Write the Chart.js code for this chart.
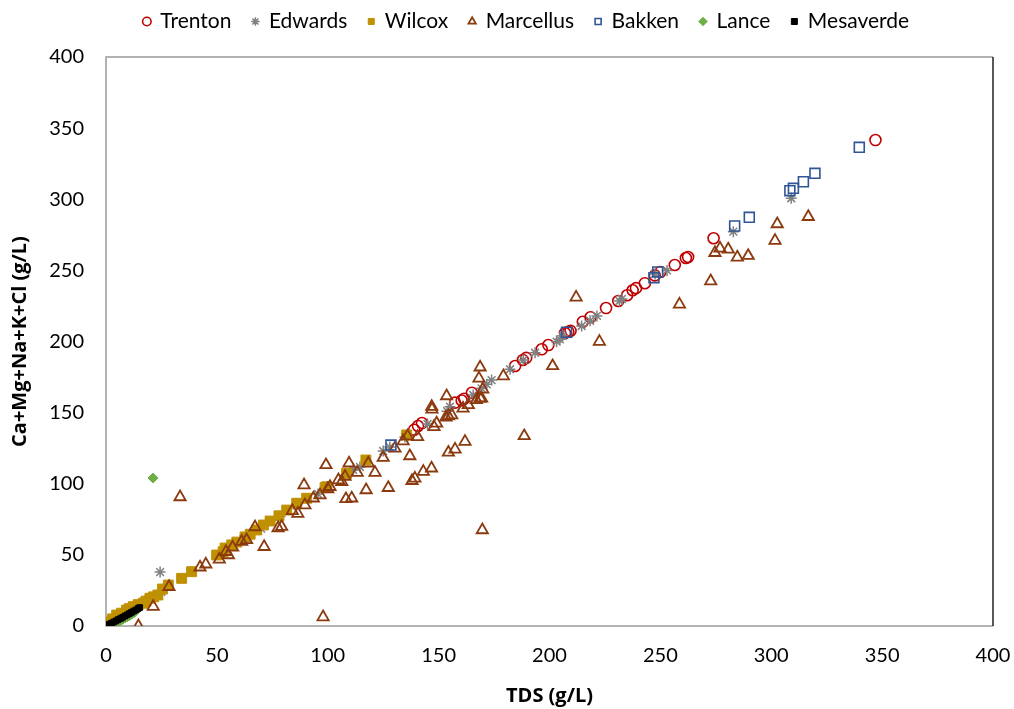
<!DOCTYPE html>
<html>
<head>
<meta charset="utf-8">
<script src="https://cdn.jsdelivr.net/npm/chart.js@4.4.1/dist/chart.umd.min.js"></script>
<style>
  html, body { margin: 0; padding: 0; background: #fff; }
  #wrap { width: 1014px; height: 709px; }
</style>
</head>
<body>
<div id="wrap"><canvas id="chart" width="1014" height="709"></canvas></div>
<script>
// TDS (g/L) vs Ca+Mg+Na+K+Cl (g/L)
const trenton = [[347,341.6],[274,272.6],[262.5,259.4],[261.5,258.7],[256.5,253.8],[250,248.9],[247.5,246.5],
  [243,241],[239,237.5],[237.5,236],[235,232.5],[231,228.5],[225.5,223.5],[218.5,217],[215,213.9],[209.5,207.5],
  [208.5,206.9],[207,206],[199.5,197.5],[196.5,194.5],[189.5,188.5],[188,187],[184.5,182.8],[165,164],
  [161.5,159.8],[160.4,158.5],[157.4,157],[142.5,142.7],[140.7,140.6],[139,138]];

const edwards = [[24.4,37.9],[309,300.7],[282.9,277.2],[253,250],[247.6,247.5],[232.7,229.9],[231.5,228.5],
  [221.4,218],[218.3,214.6],[214.5,210.9],[206,204],[204.7,201.5],[203.2,199.9],[193.5,192.1],[188.2,187],
  [182.2,180.5],[173.9,172.9],[171.7,169.9],[169.4,167.1],[165.6,162.4],[155.1,154.2],[153.8,151],[145,142],
  [134.8,132.9],[128,125.8],[125,123],[114.5,111.8],[111.4,109.7],[107.8,106],[99.7,97.7],[95.6,92.8],
  [86,84.8],[78.5,77],[70,68.5],[62,61],[55,53.5],[25,24],[20,19.5],[14,13.5],[9,8.8],[5,5]];

const wilcox = [[135.6,134.3],[117.2,116.7],[108.5,107.3],[99.5,97.9],[98.8,97.3],[90.5,89.8],[86,86.3],
  [81.5,81.5],[78,77.5],[74,73.8],[71,71],[68,67.5],[65,64.5],[62.7,62.6],[59,59],[56.7,57],[53.7,54.8],
  [52.8,52.2],[49.9,49.9],[38.6,38.2],[34.1,33.5],[28.1,28.8],[25.5,26],[23.4,21.8],[21.5,20.5],[19.8,19.5],
  [18,17.5],[16.8,16],[14.5,15],[12.3,13.6],[10.5,12.2],[9.3,11.2],[7,9],[4.8,7.7],[3,5],[1.5,3],[0.3,1.9]];

const marcellus = [[33.4,90.7],[14.6,0],[97.9,6.3],[169.7,67.5],[188.6,133.6],[99.2,113.2],[212,231],
  [222.5,199.9],[201.4,182.8],[258.6,226.1],[272.7,242.5],[274.6,262.4],[276.9,265.5],[280.6,264.8],
  [284.7,259.2],[289.6,260.3],[301.7,270.9],[302.7,282.6],[316.7,287.7],[168.7,181.9],[168.2,174.1],
  [179.2,175.7],[169.9,166.4],[168.7,160.1],[167,158.9],[169.4,160],[163.4,155.4],[161,153],[153.6,161.7],
  [153.3,146.7],[154.4,147.6],[155.9,148.3],[146.9,154.2],[147,152.3],[149.1,142.5],[147.9,140],[140.5,133],
  [137,119.5],[125,118.3],[130.3,124.9],[121.3,107.8],[118.3,114.4],[113.3,107.8],[109.6,114.4],[117.3,95.6],
  [127.3,97.2],[108.2,89.3],[110.8,89.8],[89.3,99.1],[96.5,92],[93.5,89.8],[89.7,85],[79.2,69.8],[146.8,110.9],
  [143.1,108.5],[139.3,103.8],[138,102.1],[161.9,129.6],[157.4,124.2],[154.4,122],[106.3,101.4],[107.8,105],
  [104.8,102.6],[101,97.9],[100,96.3],[28.4,27.6],[21.3,13.6],[42.4,41.3],[45,43.4],[51.1,46.9],[55.2,49.9],
  [54.1,52.2],[57.1,55.3],[61.2,59.3],[71.3,55.7],[63.4,60.5],[67.2,69.6],[77.6,68.9],[84,81],[86.5,79],
  [134,130],[136,133.5]];

const bakken = [[339.7,336.5],[319.7,318.2],[314.5,312.3],[310,307.7],[308.4,306],[290.1,287.3],[283.5,281.2],
  [248.8,248.9],[247.1,244.9],[207.7,206.5],[128.5,127.2]];

const lance = [[21.2,104],[2.5,0.6],[3.5,1.4],[4.5,2.2],[5.5,3],[6.5,3.9],[7.5,4.7],[8.5,5.6],[9.5,6.4],
  [10.5,7.3],[11.5,8.2],[12.5,9.3],[13,10]];

const mesaverde = [[0.5,0.6],[1.5,1.3],[2.5,2],[3.5,2.8],[4.5,3.6],[5.5,4.5],[6.5,5.2],[7.5,6.1],[8.5,7],
  [9.5,7.8],[10.5,8.7],[11.5,9.6],[12.5,10.5],[13.5,11.3],[14.5,12.3],[15.2,13]];

const tickValues = [0, 50, 100, 150, 200, 250, 300, 350, 400];

const FONT = 'Lato, "Open Sans", sans-serif';
const TITLE_FONT = '"Open Sans", Lato, sans-serif';

function pts(arr) {
  return arr.map(p => ({ x: p[0], y: p[1] }));
}

function series(label, data, style, color, fill, radius, order, bw) {
  return {
    label: label,
    data: pts(data),
    pointStyle: style,
    pointRadius: radius,
    pointHoverRadius: radius,
    pointBorderColor: color,
    pointBackgroundColor: fill ? color : 'rgba(0,0,0,0)',
    borderColor: color,
    backgroundColor: fill ? color : 'rgba(0,0,0,0)',
    pointBorderWidth: bw,
    showLine: false,
    order: order
  };
}

// legend height fixed and shifted a bit right, like the original
const legendTweak = {
  id: 'legendTweak',
  afterInit(chart) {
    if (!chart.legend) return;
    const fit = chart.legend.fit;
    chart.legend.fit = function () { fit.call(this); this.height = 67; };
  },
  afterLayout(chart) {
    if (!chart.legend) return;
    chart.legend.left += 30;
    chart.legend.right += 30;
  }
};

// frame around the plot area
const frame = {
  id: 'frame',
  beforeDatasetsDraw(chart) {
    const { ctx, chartArea: a } = chart;
    ctx.save();
    ctx.lineWidth = 1.5;
    ctx.strokeStyle = '#9a9a9a';
    ctx.beginPath();
    ctx.moveTo(a.right, a.top);
    ctx.lineTo(a.left, a.top);
    ctx.lineTo(a.left, a.bottom);
    ctx.lineTo(a.right, a.bottom);
    ctx.stroke();
    ctx.strokeStyle = '#222';
    ctx.beginPath();
    ctx.moveTo(a.right, a.top);
    ctx.lineTo(a.right, a.bottom);
    ctx.stroke();
    ctx.restore();
  }
};

const ctx = document.getElementById('chart').getContext('2d');
const chart = new Chart(ctx, {
  type: 'scatter',
  data: {
    datasets: [
      series('Trenton', trenton, 'circle', '#C00000', false, 5.5, 7, 1.6),
      series('Edwards', edwards, 'star', '#808080', false, 5.5, 6, 1.5),
      series('Wilcox', wilcox, 'rect', '#BF9000', true, 7, 5, 1),
      series('Marcellus', marcellus, 'triangle', '#8B3A0F', false, 6.5, 4, 1.8),
      series('Bakken', bakken, 'rect', '#2F5597', false, 7, 3, 1.6),
      series('Lance', lance, 'rectRot', '#70AD47', true, 5, 2, 1),
      series('Mesaverde', mesaverde, 'rect', '#000000', true, 4, 1, 1)
    ]
  },
  options: {
    responsive: false,
    animation: false,
    events: [],
    layout: { padding: { left: 0, right: 21, top: -10, bottom: 0 } },
    scales: {
      x: {
        type: 'linear',
        min: 0,
        max: 400,
        afterBuildTicks: (s) => { s.ticks = tickValues.map(v => ({ value: v })); },
        afterFit: (s) => { s.height = 83; s.paddingLeft = 0; s.paddingRight = 0; },
        grid: { display: false, drawTicks: false },
        border: { display: false },
        ticks: { color: '#000', padding: 18, font: { family: FONT, size: 20 } },
        title: {
          display: true,
          text: 'TDS (g/L)',
          color: '#000',
          padding: { bottom: 1, top: 0 },
          font: { family: TITLE_FONT, size: 20, weight: 'bold' }
        }
      },
      y: {
        type: 'linear',
        min: 0,
        max: 400,
        afterBuildTicks: (s) => { s.ticks = tickValues.map(v => ({ value: v })); },
        afterFit: (s) => { s.width = 106; s.paddingTop = 0; s.paddingBottom = 0; },
        grid: { display: false, drawTicks: false },
        border: { display: false },
        ticks: { color: '#000', padding: 22, font: { family: FONT, size: 20 } },
        title: {
          display: true,
          text: 'Ca+Mg+Na+K+Cl (g/L)',
          color: '#000',
          padding: { top: 8, bottom: 0 },
          font: { family: TITLE_FONT, size: 20, weight: 'bold' }
        }
      }
    },
    plugins: {
      tooltip: { enabled: false },
      legend: {
        position: 'top',
        labels: {
          color: '#000',
          usePointStyle: true,
          boxWidth: 6,
          boxHeight: 6,
          padding: 21,
          font: { family: FONT, size: 21 },
          sort: (a, b) => a.datasetIndex - b.datasetIndex
        }
      }
    }
  },
  plugins: [legendTweak, frame]
});
</script>
</body>
</html>
